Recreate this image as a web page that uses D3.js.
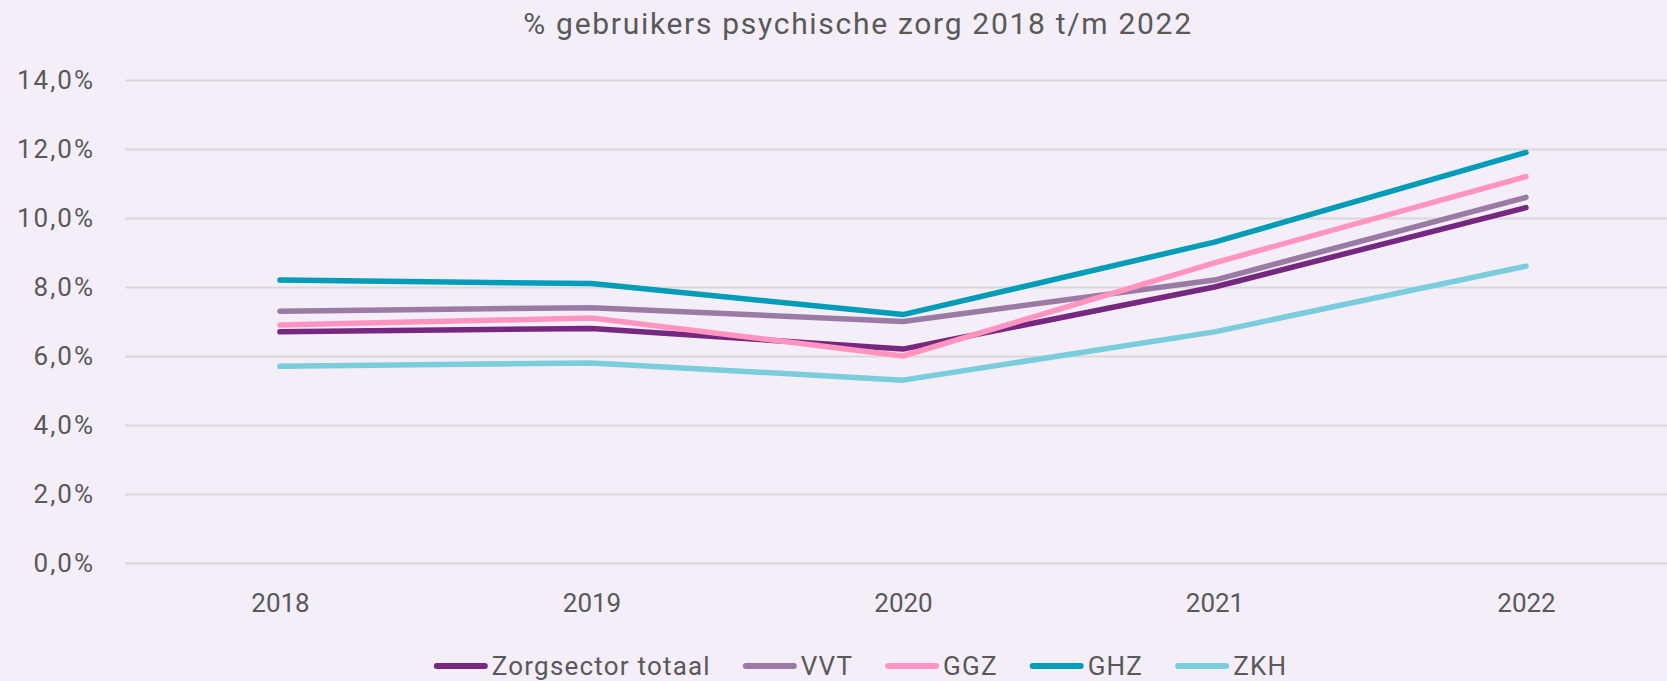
<!DOCTYPE html>
<html>
<head>
<meta charset="utf-8">
<script src="https://cdn.jsdelivr.net/npm/d3@7"></script>
<style>
  body { margin: 0; background: #f3eef8; }
  svg { display: block; }
</style>
</head>
<body>
<svg width="1667" height="681"></svg>
<script>
// data
var years = ["2018", "2019", "2020", "2021", "2022"];
var zorgsector = [6.7, 6.8, 6.2, 8.0, 10.3];
var vvt = [7.3, 7.4, 7.0, 8.2, 10.6];
var ggz = [6.9, 7.1, 6.0, 8.7, 11.2];
var ghz = [8.2, 8.1, 7.2, 9.3, 11.9];
var zkh = [5.7, 5.8, 5.3, 6.7, 8.6];
var yTicks = [0, 2, 4, 6, 8, 10, 12, 14];

var series = [
  { name: "Zorgsector totaal", values: zorgsector, color: "#76277f" },
  { name: "VVT", values: vvt, color: "#9b7ba6" },
  { name: "GGZ", values: ggz, color: "#ff94bf" },
  { name: "GHZ", values: ghz, color: "#009cb8" },
  { name: "ZKH", values: zkh, color: "#79cddc" }
];

var svg = d3.select("svg"),
    width = +svg.attr("width"),
    height = +svg.attr("height");

// plot area: gridlines run from gridLeft to the right edge,
// categories sit between xFirst and xLast
var gridLeft = 125, plotTop = 80, plotBottom = 563,
    xFirst = 280, xLast = 1526;
var font = "Roboto, sans-serif",
    textColor = "#595959";

svg.append("rect")
    .attr("width", width)
    .attr("height", height)
    .attr("fill", "#f3eef8");

var x = d3.scalePoint()
    .domain(years)
    .range([xFirst, xLast]);

var y = d3.scaleLinear()
    .domain([0, 14])
    .range([plotBottom, plotTop]);

// title
svg.append("text")
    .attr("x", 858)
    .attr("y", 34)
    .attr("text-anchor", "middle")
    .attr("font-family", font)
    .attr("font-size", 30)
    .attr("letter-spacing", 1.7)
    .attr("fill", textColor)
    .text("% gebruikers psychische zorg 2018 t/m 2022");

// gridlines + y labels
var yAxis = svg.append("g")
    .attr("transform", "translate(" + gridLeft + ",0)")
    .call(d3.axisLeft(y)
        .tickValues(yTicks)
        .tickSize(-(width - gridLeft))
        .tickPadding(30)
        .tickFormat(function(d) { return d3.format(".1f")(d).replace(".", ",") + "%"; }));
yAxis.select(".domain").remove();
yAxis.selectAll(".tick line")
    .attr("stroke", "#d9d9d9")
    .attr("stroke-width", 2);
yAxis.selectAll(".tick text")
    .attr("font-family", font)
    .attr("font-size", 26)
    .attr("letter-spacing", 2)
    .attr("fill", textColor);

// x labels
var xAxis = svg.append("g")
    .attr("transform", "translate(0," + plotBottom + ")")
    .call(d3.axisBottom(x).tickSize(0).tickPadding(31));
xAxis.select(".domain").remove();
xAxis.selectAll(".tick text")
    .attr("font-family", font)
    .attr("font-size", 26)
    .attr("fill", textColor);

// lines
var line = d3.line()
    .x(function(d, i) { return x(years[i]); })
    .y(function(d) { return y(d); });

svg.append("g")
    .selectAll("path")
    .data(series)
    .enter().append("path")
    .attr("d", function(d) { return line(d.values); })
    .attr("fill", "none")
    .attr("stroke", function(d) { return d.color; })
    .attr("stroke-width", 5.5)
    .attr("stroke-linecap", "round")
    .attr("stroke-linejoin", "round");

// legend
var legend = svg.append("g");
var item = legend.selectAll("g")
    .data(series)
    .enter().append("g");
item.append("line")
    .attr("x1", 3).attr("x2", 51)
    .attr("y1", 0).attr("y2", 0)
    .attr("stroke", function(d) { return d.color; })
    .attr("stroke-width", 6)
    .attr("stroke-linecap", "round");
item.append("text")
    .attr("x", 58)
    .attr("dy", "0.35em")
    .attr("font-family", font)
    .attr("font-size", 26)
    .attr("letter-spacing", 1.2)
    .attr("fill", textColor)
    .text(function(d) { return d.name; });

var pos = 0, gap = 32;
item.each(function() {
    var w = 58 + this.querySelector("text").getComputedTextLength();
    d3.select(this).attr("transform", "translate(" + pos + ",0)");
    pos += w + gap;
});
pos -= gap;
legend.attr("transform", "translate(" + ((width - pos) / 2 + 27) + ",666)");
</script>
</body>
</html>
